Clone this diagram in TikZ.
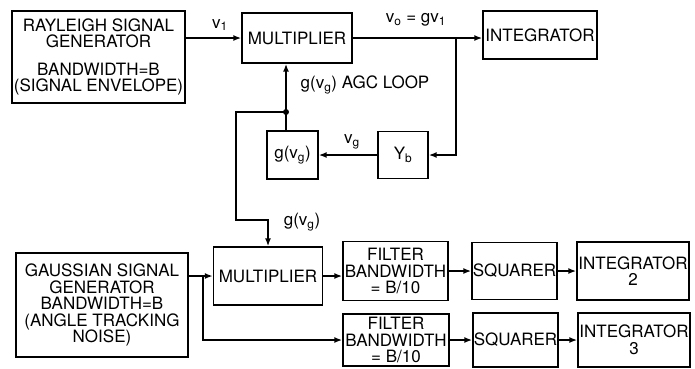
\documentclass[tikz,border=0pt]{standalone}
\usepackage{fontspec}
\setmainfont{TeX Gyre Heros}
\usetikzlibrary{arrows.meta}

\begin{document}
\begin{tikzpicture}[x=1pt,y=-1pt,
    blk/.style={draw, line width=1.4pt, align=center, inner sep=0.5pt,
        font=\fontsize{17}{16.5}\selectfont},
    wire/.style={line width=2.6pt, -{Latex[length=8pt,width=6pt]}},
    lbl/.style={font=\fontsize{17}{16.5}\selectfont},
]
    \useasboundingbox (0,0) rectangle (695,368);%page size

    % AGC loop
    \node[blk, minimum width=173pt, minimum height=92pt] (ray) at (98.5,57)
        {RAYLEIGH SIGNAL\\GENERATOR\\[11pt]BANDWIDTH=B\\(SIGNAL ENVELOPE)};
    \node[blk, minimum width=110pt, minimum height=50pt] (mulA) at (297,38) {MULTIPLIER};
    \node[blk, minimum width=114pt, minimum height=48pt] (intA) at (540,35) {INTEGRATOR};
    \node[blk, minimum width=51pt, minimum height=48pt] (gfun) at (292.5,155) {g(v\textsubscript{g})};
    \node[blk, minimum width=50pt, minimum height=47pt] (yb) at (403,155) {Y\textsubscript{b}};

    % angle tracking noise
    \node[blk, minimum width=172pt, minimum height=104pt] (gau) at (102,305)
        {GAUSSIAN SIGNAL\\GENERATOR\\BANDWIDTH=B\\(ANGLE TRACKING\\NOISE)};
    \node[blk, minimum width=109pt, minimum height=58pt] (mulB) at (268,276) {MULTIPLIER};
    \node[blk, minimum width=105pt, minimum height=59pt] (filA) at (395.5,271) {FILTER\\BANDWIDTH\\= B/10};
    \node[blk, minimum width=85pt, minimum height=57pt] (sqA) at (514.5,271) {SQUARER};
    \node[blk, minimum width=112pt, minimum height=58pt] (intB) at (633,271) {INTEGRATOR\\2};
    \node[blk, minimum width=106pt, minimum height=52pt] (filB) at (396,340) {FILTER\\BANDWIDTH\\= B/10};
    \node[blk, minimum width=85pt, minimum height=54pt] (sqB) at (515.5,340) {SQUARER};
    \node[blk, minimum width=112pt, minimum height=54pt] (intC) at (634,340) {INTEGRATOR\\3};

    \coordinate (tap) at (456,0);
    \coordinate (j) at (286,112);
    \coordinate (k) at (236,220);
    \coordinate (s) at (203,0);

    \draw[wire] (ray.east |- mulA.west) -- (mulA.west);
    \draw[wire] (mulA.east) -- (intA.west |- mulA.east);
    \draw[wire] (tap |- mulA.east) |- (yb.east);
    \draw[wire] (yb.west) -- (gfun.east);
    \draw[wire] (gfun.north -| j) -- (mulA.south -| j);
    \draw[wire] (j) -| (k) -| (mulB.north);
    \fill (j) circle (3pt);%junction

    \draw[wire] (gau.east |- mulB.west) -- (mulB.west);
    \draw[wire] (s |- mulB.west) |- (filB.west);
    \draw[wire] (mulB.east) -- (filA.west |- mulB.east);
    \draw[wire] (filA) -- (sqA);
    \draw[wire] (sqA) -- (intB);
    \draw[wire] (filB) -- (sqB);
    \draw[wire] (sqB) -- (intC);

    \node[lbl] (lvone) at (220,25) {v\textsubscript{1}};
    \node[lbl] (lvo) at (416,20) {v\textsubscript{o} = gv\textsubscript{1}};
    \node[lbl] (lagc) at (365,85) {g(v\textsubscript{g}) AGC LOOP};
    \node[lbl] (lvg) at (352,142) {v\textsubscript{g}};
    \node[lbl] (lgb) at (302,222) {g(v\textsubscript{g})};
\end{tikzpicture}
\end{document}
